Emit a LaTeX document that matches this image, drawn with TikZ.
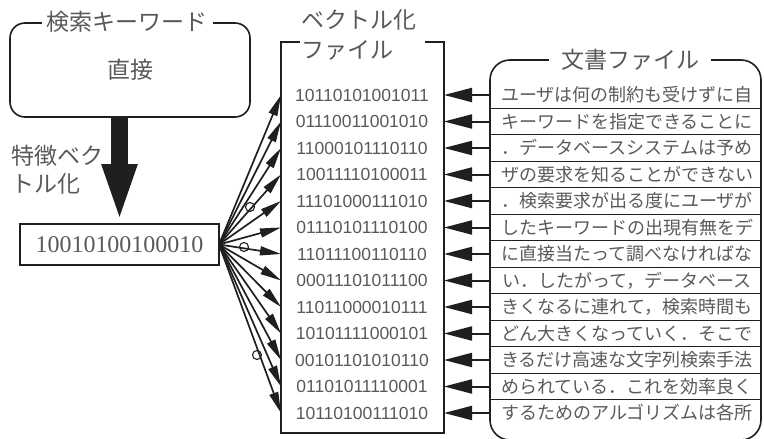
\documentclass[tikz,border=0pt]{standalone}
\usepackage{fontspec}
\setmainfont{Liberation Serif}
\newfontfamily\jp{Noto Sans CJK JP}
\newfontfamily\binf{Liberation Sans}
\usetikzlibrary{arrows.meta,calc}
\definecolor{ink}{gray}{0.12}
\definecolor{txt}{gray}{0.35}
\begin{document}
\begin{tikzpicture}[x=1pt,y=-1pt,
  box/.style={draw=ink,line width=1.6pt,inner sep=0pt,outer sep=0pt},
  ttl/.style={fill=white,inner xsep=5pt,inner ysep=2pt,text=txt,font=\jp\fontsize{23}{26}\selectfont},
  jlabel/.style={text=txt,font=\jp\fontsize{23}{28}\selectfont,inner sep=0pt},
  binrow/.style={text=txt,font=\binf\fontsize{17.5}{20}\selectfont,inner sep=0pt},
  docrow/.style={text=txt,font=\jp\fontsize{18}{20}\selectfont,inner sep=0pt},
  docarr/.style={draw=ink,line width=2pt,-{Triangle[length=28pt,width=14pt]}},
  fanarr/.style={draw=ink,line width=1.7pt,-{Triangle[length=21pt,width=9pt]}},
  sep/.style={draw=ink,line width=1.3pt},
  loopc/.style={draw=ink,line width=1.1pt}]
\useasboundingbox (0,0) rectangle (764,439);
% keyword box
\node[box,rounded corners=15pt,minimum width=240pt,minimum height=94pt,
      text=txt,font=\jp\fontsize{23}{26}\selectfont] (kw) at (130,70) {直接};
\node[ttl] (kwt) at (127,22) {検索キーワード};
% query vector
\node[box,minimum width=199pt,minimum height=41pt,text=txt,
      font=\fontsize{24}{26}\selectfont] (qv) at (119.5,244.5) {10010100100010};
\draw[draw=ink,line width=17pt,-{Triangle[length=60pt,width=31pt]}]
  (kw.south -| qv.north) -- (qv.north);
\node[jlabel,anchor=west,align=left] (fv) at (11,170) {特徴ベク\\トル化};
% vector file
\node[inner sep=0pt,outer sep=0pt,minimum width=163pt,minimum height=391pt] (vf) at (362.5,237.5) {};
\draw[draw=ink,line width=1.6pt] ($(vf.north west)+(19,0)$) -- (vf.north west) -- (vf.south west)
  -- (vf.south east) -- (vf.north east) -- ++(-19,0);
\node[jlabel,anchor=west] (vt1) at (301,20) {ベクトル化};
\node[jlabel,anchor=west] (vt2) at (301,50) {ファイル};
% document file
\node[box,rounded corners=20pt,minimum width=271pt,minimum height=380pt] (doc) at (625.5,250) {};
\node[ttl,inner xsep=12pt] (doct) at (630,60) {文書ファイル};
\foreach \i/\b/\t in {
  0/10110101001011/ユーザは何の制約も受けずに自,
  1/01110011001010/キーワードを指定できることに,
  2/11000101110110/．データベースシステムは予め,
  3/10011110100011/ザの要求を知ることができない,
  4/11101000111010/．検索要求が出る度にユーザが,
  5/01110101110100/したキーワードの出現有無をデ,
  6/11011100110110/に直接当たって調べなければな,
  7/00011101011100/い．したがって，データベース,
  8/11011000010111/きくなるに連れて，検索時間も,
  9/10101111000101/どん大きくなっていく．そこで,
  10/00101101010110/きるだけ高速な文字列検索手法,
  11/01101011110001/められている．これを効率良く,
  12/10110100111010/するためのアルゴリズムは各所}{
  \pgfmathsetmacro{\y}{95+26.5*\i}
  \node[binrow] (b\i) at (362,\y) {\b};
  \node[docrow] (d\i) at (627,\y) {\t};
  \draw[docarr] (doc.west |- d\i) -- (vf.east |- b\i);
  \draw[fanarr] (qv.east) -- (vf.west |- b\i);
}
\foreach \i in {0,...,11}{
  \pgfmathsetmacro{\y}{95+26.5*\i+13.25}
  \draw[sep] (490,\y) -- (760.5,\y);
}
\draw[loopc] (250,207) circle (4.5pt);
\draw[loopc] (244,247) circle (4.5pt);
\draw[loopc] (257,355) circle (4.5pt);
\end{tikzpicture}
\end{document}
